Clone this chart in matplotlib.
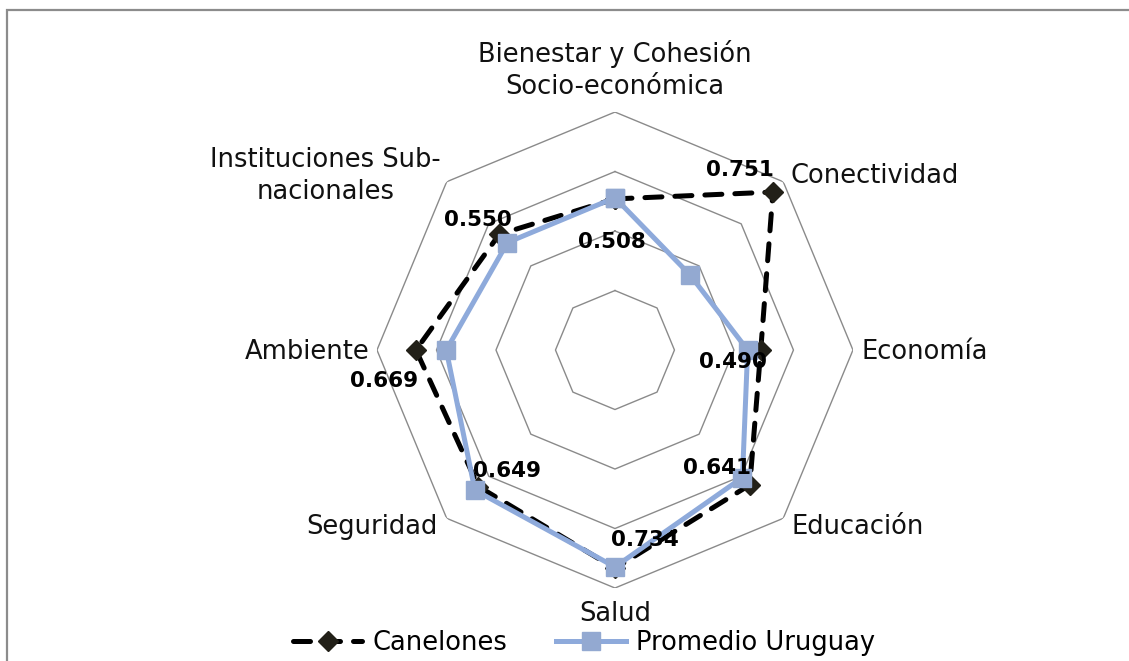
import numpy as np
import matplotlib.pyplot as plt
from matplotlib.lines import Line2D
from matplotlib.patches import Rectangle

categorias = ['Bienestar y Cohesión\nSocio-económica', 'Conectividad', 'Economía', 'Educación',
              'Salud', 'Seguridad', 'Ambiente', 'Instituciones Sub-\nnacionales']
canelones = [0.508, 0.751, 0.490, 0.641, 0.734, 0.649, 0.669, 0.550]
promedio = [0.512, 0.357, 0.446, 0.606, 0.729, 0.666, 0.567, 0.511]
anillos = [0.2, 0.4, 0.6, 0.8]

# offsets (pixels) for the category labels and the value labels
off_cat = [(0, 12, 'center', 'bottom'), (7, 6, 'left', 'center'), (9, -2, 'left', 'center'),
           (8, -9, 'left', 'center'), (0, -26, 'center', 'center'), (-9, -9, 'right', 'center'),
           (-7, -2, 'right', 'center'), (-6, 6, 'right', 'center')]
off_val = [(-3, -43), (-33, 22), (-28, -12), (-33, 17), (30, 28), (29, 16), (-32, -31), (-21, 14)]

n = len(categorias)
ang = np.arange(n) * 2 * np.pi / n
ang_c = np.append(ang, ang[0])

fig = plt.figure(figsize=(11.29, 6.61), dpi=100)
fig.patches.append(Rectangle((7 / 1129, -0.1), 1.2, 1 - 10 / 661 + 0.1, transform=fig.transFigure,
                             fill=False, edgecolor='#8c8c8c', linewidth=1.6))

ax = fig.add_axes([0.3339, 0.1104, 0.4216, 0.7201], projection='polar')
ax.set_theta_zero_location('N')
ax.set_theta_direction(-1)
ax.set_ylim(0, 0.8)
ax.grid(False)
ax.set_xticks([])
ax.set_yticks([])
ax.spines['polar'].set_visible(False)
ax.patch.set_visible(False)

for r in anillos:
    ax.plot(ang_c, [r] * (n + 1), color='#8a8a8a', lw=1.0, zorder=1)

ax.plot(ang_c, canelones + canelones[:1], color='black', lw=3.6, linestyle=(0, (3.4, 2.6)),
        dash_capstyle='round', marker='D', ms=10, mfc='#222018', mec='#222018', zorder=3, clip_on=False)
ax.plot(ang_c, promedio + promedio[:1], color='#8EAADB', lw=3.6, marker='s', ms=12.5,
        mfc='#93A9D1', mec='#93A9D1', zorder=4, clip_on=False)

for i in range(n):
    dx, dy, ha, va = off_cat[i]
    ax.annotate(categorias[i], xy=(ang[i], 0.8), xytext=(dx, dy), textcoords='offset pixels',
                ha=ha, va=va, multialignment='center', fontsize=18.5, color='#111111',
                annotation_clip=False, linespacing=1.3)
    ax.annotate('%.3f' % canelones[i], xy=(ang[i], canelones[i]), xytext=off_val[i],
                textcoords='offset pixels', ha='center', va='center', fontsize=15.5,
                fontweight='bold', color='black', annotation_clip=False, zorder=6)

handles = [Line2D([], [], color='black', lw=3.6, linestyle=(0, (3.4, 2.6)), dash_capstyle='round',
                  marker='D', ms=10, mfc='#222018', mec='#222018'),
           Line2D([], [], color='#8EAADB', lw=3.6, marker='s', ms=12.5, mfc='#93A9D1', mec='#93A9D1')]
fig.legend(handles, ['Canelones', 'Promedio Uruguay'], loc='center', bbox_to_anchor=(584 / 1129, 1 - 643 / 661),
           ncol=2, frameon=False, fontsize=18.5, handlelength=2.7, handletextpad=0.4, columnspacing=1.9,
           borderpad=0)

fig.savefig('out.png', dpi=100)
